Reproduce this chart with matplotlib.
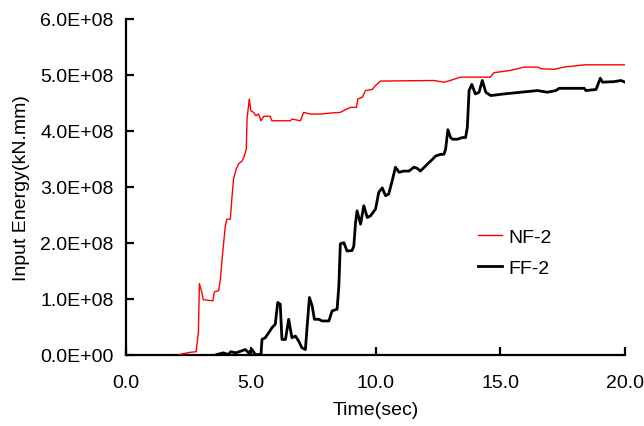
import matplotlib
matplotlib.use("Agg")
import matplotlib.pyplot as plt
from matplotlib.ticker import FuncFormatter, MultipleLocator

# NF-2 input energy (time in sec, energy in kN.mm)
nf_time = [2.13, 2.57, 2.81, 2.90, 2.94, 3.04, 3.10, 3.48, 3.54, 3.71, 3.78, 3.88,
           3.98, 4.04, 4.18, 4.24, 4.31, 4.42, 4.51, 4.65, 4.74, 4.82, 4.85, 4.94,
           5.00, 5.11, 5.20, 5.31, 5.41, 5.52, 5.78, 5.85, 6.59, 6.65, 6.99, 7.12,
           7.39, 7.79, 8.26, 8.59, 8.80, 9.00, 9.24, 9.29, 9.47, 9.60, 9.87, 10.00,
           10.20, 12.34, 12.74, 13.00, 13.40, 14.60, 14.75, 15.40, 15.96, 16.50,
           16.63, 17.16, 17.56, 18.37, 20.00]
nf_energy = [0.00, 0.04, 0.05, 0.39, 1.27, 1.11, 0.98, 0.96, 1.12, 1.14, 1.34, 1.85,
             2.30, 2.42, 2.42, 2.78, 3.14, 3.32, 3.41, 3.46, 3.55, 3.67, 4.21, 4.57,
             4.36, 4.33, 4.27, 4.30, 4.18, 4.26, 4.26, 4.18, 4.18, 4.21, 4.18, 4.33,
             4.30, 4.30, 4.32, 4.33, 4.38, 4.42, 4.42, 4.57, 4.60, 4.72, 4.74, 4.81,
             4.89, 4.90, 4.87, 4.90, 4.96, 4.96, 5.04, 5.08, 5.14, 5.14,
             5.11, 5.10, 5.14, 5.18, 5.18]

# FF-2 input energy
ff_time = [3.64, 3.90, 4.10, 4.20, 4.40, 4.60, 4.78, 4.91, 5.05, 5.18, 5.41, 5.45,
           5.58, 5.72, 5.85, 5.98, 6.08, 6.18, 6.25, 6.39, 6.52, 6.59, 6.65, 6.79,
           6.92, 7.05, 7.19, 7.26, 7.35, 7.46, 7.55, 7.72, 7.86, 8.13, 8.26, 8.46,
           8.53, 8.59, 8.73, 8.86, 9.06, 9.13, 9.20, 9.26, 9.40, 9.53, 9.67, 9.80,
           10.00, 10.13, 10.27, 10.40, 10.53, 10.67, 10.80, 10.94, 11.14, 11.34,
           11.54, 11.67, 11.80, 12.00, 12.14, 12.28, 12.41, 12.61, 12.74, 12.81,
           12.90, 13.01, 13.08, 13.28, 13.48, 13.61, 13.68, 13.75, 13.86, 14.00,
           14.15, 14.28, 14.42, 14.62, 15.15, 15.82, 16.49, 16.89, 17.23, 17.36,
           18.37, 18.43, 18.84, 19.01, 19.10, 19.57, 19.84, 20.00]
ff_energy = [0.00, 0.03, 0.00, 0.05, 0.03, 0.06, 0.09, 0.03, 0.09, 0.00, 0.00, 0.27,
             0.30, 0.39, 0.48, 0.54, 0.93, 0.90, 0.27, 0.27, 0.63, 0.45, 0.30, 0.33,
             0.24, 0.12, 0.09, 0.51, 1.02, 0.87, 0.63, 0.63, 0.60, 0.60, 0.78, 0.81,
             1.22, 1.98, 2.00, 1.85, 1.86, 1.94, 2.36, 2.57, 2.33, 2.66, 2.45, 2.48,
             2.60, 2.90, 2.98, 2.84, 2.87, 3.11, 3.35, 3.26, 3.28, 3.28,
             3.35, 3.33, 3.28, 3.37, 3.43, 3.49, 3.55, 3.58, 3.58, 3.67,
             4.02, 3.88, 3.85, 3.85, 3.88, 3.88, 4.06, 4.72, 4.83, 4.66,
             4.69, 4.90, 4.69, 4.63, 4.66, 4.69, 4.72, 4.69, 4.72, 4.76,
             4.76, 4.72, 4.74, 4.94, 4.87, 4.88, 4.90, 4.87]

SCALE = 1e8

plt.rcParams["font.family"] = ["Liberation Sans", "DejaVu Sans"]
plt.rcParams["font.size"] = 14

fig = plt.figure(figsize=(6.44, 4.27), dpi=100)
ax = fig.add_axes([0.1957, 0.1674, 0.7748, 0.7858])

ax.plot(nf_time, [e * SCALE for e in nf_energy], color="#ff0000", lw=1.0,
        label="NF-2", zorder=3)
ax.plot(ff_time, [e * SCALE for e in ff_energy], color="black", lw=2.0,
        label="FF-2", zorder=3)

ax.set_xlim(0, 20)
ax.set_ylim(0, 6e8)
ax.xaxis.set_major_locator(MultipleLocator(5))
ax.yaxis.set_major_locator(MultipleLocator(1e8))
ax.xaxis.set_major_formatter(FuncFormatter(lambda v, p: f"{v:.1f}"))
ax.yaxis.set_major_formatter(FuncFormatter(lambda v, p: f"{v:.1E}"))

for side in ("top", "right"):
    ax.spines[side].set_visible(False)
for side in ("left", "bottom"):
    ax.spines[side].set_linewidth(1.6)

ax.tick_params(direction="in", length=6, width=1.6, pad=9)
ax.tick_params(axis="x", pad=14)

ax.set_xlabel("Time(sec)", labelpad=7)
ax.set_ylabel("Input Energy(kN.mm)", labelpad=7)

ax.legend(loc="upper left", bbox_to_anchor=(0.705, 0.375), frameon=False,
          borderpad=0, borderaxespad=0, handlelength=1.25, handletextpad=0.3,
          labelspacing=0.65)

fig.savefig("out.png", dpi=100)
